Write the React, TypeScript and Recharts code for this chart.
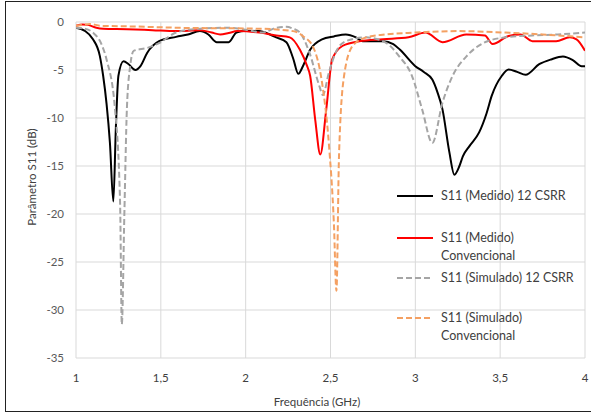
import { LineChart, Line, XAxis, YAxis, CartesianGrid } from "recharts";

const xTicks = [1, 1.5, 2, 2.5, 3, 3.5, 4];
const yTicks = [0, -5, -10, -15, -20, -25, -30, -35];

// S11 (Medido) 12 CSRR
const medCsrrFreq = [
  1.0, 1.05, 1.1, 1.14, 1.16, 1.18, 1.2, 1.22, 1.235, 1.25, 1.28, 1.31, 1.35, 1.38, 1.42, 1.49,
  1.59, 1.66, 1.73, 1.78, 1.83, 1.9, 1.945, 2.0, 2.08, 2.18, 2.24, 2.28, 2.31, 2.34, 2.38, 2.45,
  2.52, 2.59, 2.65, 2.69, 2.81, 2.87, 2.91, 3.0, 3.05, 3.1, 3.13, 3.16, 3.2, 3.23, 3.26, 3.28,
  3.32, 3.376, 3.42, 3.45, 3.51, 3.55, 3.6, 3.65, 3.73, 3.8, 3.87, 3.93, 3.98, 4.0,
];
const medCsrrS11 = [
  -0.6, -0.9, -1.8, -3.5, -5.6, -8.5, -12.6, -18.7, -11, -5.6, -4.1, -4.4, -5.0, -4.6, -3.2, -2.0,
  -1.55, -1.3, -0.95, -1.3, -2.1, -2.1, -1.1, -0.9, -0.95, -1.6, -2.1, -3.8, -5.4, -4.5, -2.9, -1.8,
  -1.5, -1.3, -1.6, -2.0, -2.0, -2.3, -2.9, -4.6, -5.2, -6.0, -7.3, -9.1, -13.5, -15.9, -15, -14.0,
  -12.9, -11.5, -9.5, -7.7, -5.6, -4.95, -5.2, -5.5, -4.4, -3.9, -3.6, -4.0, -4.6, -4.6,
];

// S11 (Medido) Convencional
const medConvFreq = [
  1.0, 1.04, 1.07, 1.12, 1.16, 1.3, 1.45, 1.59, 1.73, 1.8, 1.85, 1.9, 1.95, 2.08, 2.18, 2.26,
  2.32, 2.36, 2.38, 2.41, 2.44, 2.475, 2.51, 2.57, 2.67, 2.81, 2.96, 3.06, 3.16, 3.3, 3.41, 3.455,
  3.55, 3.62, 3.69, 3.83, 3.91, 3.95, 4.0,
];
const medConvS11 = [
  -0.4, -0.25, -0.3, -0.6, -0.7, -0.75, -0.85, -0.95, -0.85, -1.1, -1.3, -1.15, -0.95, -1.1, -1.4, -1.6,
  -2.9, -4.5, -5.6, -10.2, -13.8, -9.1, -3.9, -2.5, -2.0, -1.8, -1.6, -1.1, -2.1, -1.3, -1.4, -2.3,
  -1.45, -1.3, -2.0, -2.0, -1.6, -1.8, -3.0,
];

// S11 (Simulado) 12 CSRR
const simCsrrFreq = [
  1.0, 1.05, 1.1, 1.15, 1.18, 1.23, 1.26, 1.27, 1.285, 1.3, 1.32, 1.34, 1.42, 1.49, 1.59, 1.73,
  1.9, 2.0, 2.1, 2.18, 2.24, 2.28, 2.32, 2.376, 2.435, 2.455, 2.49, 2.53, 2.59, 2.71, 2.83, 2.906,
  2.98, 3.04, 3.1, 3.16, 3.22, 3.3, 3.4, 3.53, 3.69, 3.84, 4.0,
];
const simCsrrS11 = [
  -0.6, -0.7, -1.1, -2.3, -3.9, -9.1, -19, -31.5, -20, -9, -4.5, -3.0, -2.7, -2.2, -1.1, -0.7,
  -0.6, -0.8, -1.1, -0.6, -0.5, -0.7, -1.1, -3.2, -6.7, -7.6, -5.3, -3.2, -2.0, -1.6, -2.2, -3.6,
  -5.6, -9.1, -12.6, -8.4, -5.6, -3.6, -2.2, -1.6, -1.4, -1.3, -1.1,
];

// S11 (Simulado) Convencional
const simConvFreq = [
  1.0, 1.04, 1.08, 1.15, 1.3, 1.6, 2.08, 2.28, 2.34, 2.4, 2.45, 2.49, 2.52, 2.535, 2.55, 2.58,
  2.63, 2.71, 2.82, 3.0, 3.25, 3.53, 3.75, 4.0,
];
const simConvS11 = [
  -0.4, -0.3, -0.2, -0.4, -0.45, -0.6, -0.7, -0.95, -1.5, -2.7, -6.3, -12.6, -21, -28, -14, -5.6,
  -2.5, -1.6, -1.3, -1.1, -0.95, -1.1, -1.3, -1.6,
];

const toPoints = (freq: number[], s11: number[]) => freq.map((f, i) => ({ f, s11: s11[i] }));

const series = [
  { name: "S11 (Medido) 12 CSRR", data: toPoints(medCsrrFreq, medCsrrS11), color: "#000000", dash: undefined },
  { name: "S11 (Medido) Convencional", data: toPoints(medConvFreq, medConvS11), color: "#ff0000", dash: undefined },
  { name: "S11 (Simulado) 12 CSRR", data: toPoints(simCsrrFreq, simCsrrS11), color: "#a5a5a5", dash: "6 3" },
  { name: "S11 (Simulado) Convencional", data: toPoints(simConvFreq, simConvS11), color: "#f4a062", dash: "6 3" },
];

const legendItems = [
  { lines: ["S11 (Medido) 12 CSRR"], color: "#000000", dash: undefined, y: 196 },
  { lines: ["S11 (Medido)", "Convencional"], color: "#ff0000", dash: undefined, y: 238 },
  { lines: ["S11 (Simulado) 12 CSRR"], color: "#a5a5a5", dash: "6 3", y: 278 },
  { lines: ["S11 (Simulado)", "Convencional"], color: "#f4a062", dash: "6 3", y: 318 },
];

const font = "Lato, 'Open Sans', sans-serif";

export default function App() {
  return (
    <div
      style={{
        position: "absolute",
        left: 0,
        top: 0,
        width: 591,
        height: 413,
        overflow: "hidden",
        background: "#fff",
        fontFamily: font,
      }}
    >
      <div
        style={{
          position: "absolute",
          left: 5,
          top: 1,
          width: 600,
          height: 409,
          border: "1.5px solid #222",
        }}
      />
      <LineChart width={591} height={413} margin={{ top: 22, right: 6, bottom: 25, left: 0 }}>
        <CartesianGrid stroke="#d9d9d9" />
        <XAxis
          dataKey="f"
          type="number"
          domain={[1, 4]}
          ticks={xTicks}
          allowDataOverflow
          height={30}
          axisLine={false}
          tickLine={false}
          tickSize={0}
          tickMargin={16}
          tickFormatter={(v: number) => String(v).replace(".", ",")}
          tick={{ fill: "#404040", fontSize: 11.5, fontFamily: font }}
        />
        <YAxis
          type="number"
          domain={[-35, 0]}
          ticks={yTicks}
          width={76}
          axisLine={false}
          tickLine={false}
          tickSize={0}
          tickMargin={12}
          tick={{ fill: "#595959", fontSize: 11.5, fontFamily: font }}
        />
        {series.map((s) => (
          <Line
            key={s.name}
            data={s.data}
            dataKey="s11"
            name={s.name}
            type="monotone"
            stroke={s.color}
            strokeWidth={2}
            strokeDasharray={s.dash}
            dot={false}
            activeDot={false}
            isAnimationActive={false}
          />
        ))}
      </LineChart>

      {/* axis titles */}
      <div
        style={{
          position: "absolute",
          left: 317,
          top: 395,
          transform: "translateX(-50%)",
          fontSize: 11.5,
          lineHeight: "14px",
          color: "#404040",
          whiteSpace: "nowrap",
        }}
      >
        Frequência (GHz)
      </div>
      <div
        style={{
          position: "absolute",
          left: 32,
          top: 177,
          transform: "translate(-50%, -50%) rotate(-90deg)",
          fontSize: 11.5,
          lineHeight: "14px",
          color: "#404040",
          whiteSpace: "nowrap",
        }}
      >
        Parâmetro S11 (dB)
      </div>

      {/* legend */}
      {legendItems.map((item) => (
        <div
          key={item.lines.join(" ")}
          style={{
            position: "absolute",
            left: 397,
            top: item.y - 9,
            display: "flex",
            alignItems: "flex-start",
          }}
        >
          <svg width={38} height={18} style={{ flex: "none" }}>
            <line x1={0} y1={9} x2={36} y2={9} stroke={item.color} strokeWidth={2} strokeDasharray={item.dash} />
          </svg>
          <div style={{ marginLeft: 6, fontSize: 12.5, lineHeight: "18px", color: "#404040", whiteSpace: "nowrap" }}>
            {item.lines.map((l) => (
              <div key={l}>{l}</div>
            ))}
          </div>
        </div>
      ))}
    </div>
  );
}
